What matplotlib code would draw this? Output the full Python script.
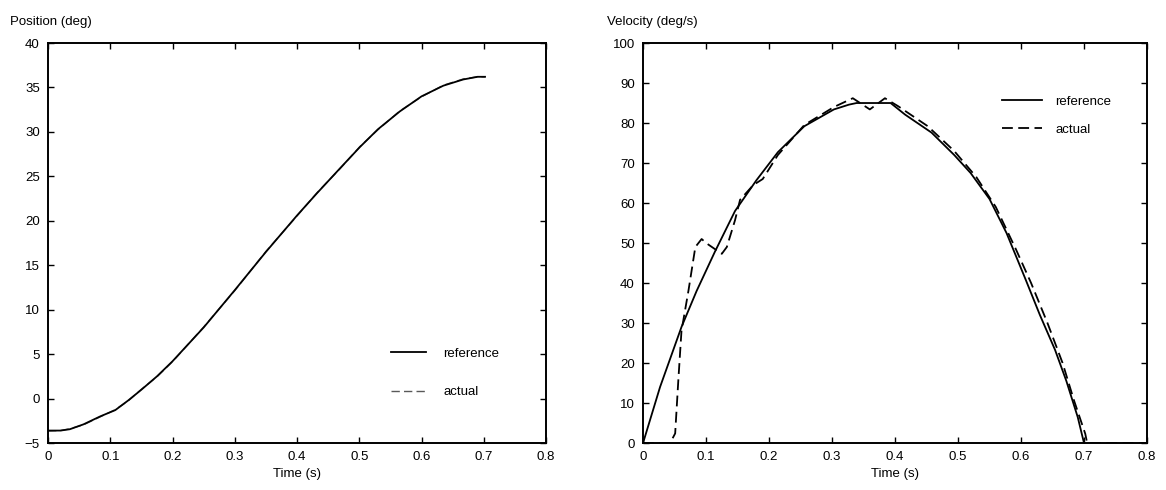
import numpy as np
import matplotlib
matplotlib.use("Agg")
import matplotlib.pyplot as plt

plt.rcParams['font.family'] = ['Liberation Sans', 'DejaVu Sans']
plt.rcParams['font.size'] = 9

##################### Data ######################
# position (deg)
pos_t = [0, 0.02, 0.035, 0.057, 0.084, 0.108, 0.129, 0.15, 0.175, 0.2, 0.25,
         0.3, 0.35, 0.4, 0.432, 0.469, 0.501, 0.53, 0.565, 0.6, 0.635,
         0.667, 0.69, 0.702]
pos_ref = [-3.6, -3.6, -3.45, -2.9, -2.0, -1.3, -0.2, 1.0, 2.5, 4.2, 8.0,
           12.2, 16.5, 20.6, 23.1, 25.9, 28.3, 30.3, 32.3, 34.0, 35.2,
           35.9, 36.2, 36.2]
pos_act = [-3.65, -3.6, -3.4, -2.95, -2.05, -1.25, -0.25, 1.05, 2.45, 4.15,
           8.05, 12.15, 16.55, 20.55, 23.15, 25.85, 28.35, 30.25, 32.35,
           33.95, 35.25, 35.95, 36.2, 36.2]

# velocity (deg/s)
vel_t = [0, 0.027, 0.061, 0.085, 0.114, 0.146, 0.18, 0.214, 0.256, 0.303,
         0.327, 0.339, 0.393, 0.416, 0.458, 0.494, 0.52, 0.55, 0.577,
         0.607, 0.63, 0.654, 0.672, 0.69, 0.7]
vel_ref = [0, 14, 29, 38, 47.8, 58, 65.7, 72.7, 79.2, 83.4, 84.6, 85, 85,
           82.1, 77.6, 72, 67.5, 61, 52.5, 41, 32, 23.3, 15.5, 6.5, 0]
act_t = [0, 0.043, 0.051, 0.056, 0.061, 0.072, 0.083, 0.093, 0.101, 0.125,
         0.133, 0.146, 0.154, 0.175, 0.19, 0.214, 0.256, 0.303, 0.333, 0.36,
         0.384, 0.405, 0.452, 0.494, 0.529, 0.56, 0.592, 0.616, 0.642,
         0.666, 0.684, 0.702, 0.705, 0.8]
act_v = [0, 0, 2.4, 15.7, 28, 38, 49, 51, 49.9, 47.3, 49, 55.7, 60.8, 64.5,
         66, 72, 79.5, 84, 86.2, 83.4, 86.2, 84.2, 79.2, 73, 66.5, 59, 48.4,
         40, 30, 20, 10.7, 2.3, 0, 0]

xticks = [0, 0.1, 0.2, 0.3, 0.4, 0.5, 0.6, 0.7, 0.8]
xticklabels = ['0', '0.1', '0.2', '0.3', '0.4', '0.5', '0.6', '0.7', '0.8']

##################### Plots ###########################
fig = plt.figure(figsize=(11.66, 4.9), dpi=100)
ax1 = fig.add_axes([0.0412, 0.0959, 0.4271, 0.8163])
ax2 = fig.add_axes([0.5515, 0.0959, 0.4322, 0.8163])

dash = (0, (6, 3))

ax1.plot(pos_t, pos_act, color='0.35', lw=1.0, linestyle=dash, label='actual')
ax1.plot(pos_t, pos_ref, color='k', lw=1.3, label='reference')
ax1.axis([0, 0.8, -5, 40])
ax1.set_yticks(range(-5, 41, 5))

ax2.plot(vel_t, vel_ref, color='k', lw=1.3, label='reference')
ax2.plot(act_t, act_v, color='k', lw=1.3, linestyle=dash, label='actual')
ax2.axis([0, 0.8, 0, 100])
ax2.set_yticks(range(0, 101, 10))

for ax in (ax1, ax2):
    ax.set_xticks(xticks)
    ax.set_xticklabels(xticklabels)
    ax.tick_params(direction='in', top=True, right=True, length=4,
                   width=1, labelsize=9.5, pad=6)
    for s in ax.spines.values():
        s.set_linewidth(1.4)
    ax.set_xlabel('Time (s)', fontsize=9.5, labelpad=3)

h, l = ax1.get_legend_handles_labels()
ax1.legend(h[::-1], l[::-1], loc='upper left', bbox_to_anchor=(0.675, 0.255),
           frameon=False, handlelength=2.7, labelspacing=2.0, borderpad=0,
           handletextpad=1.3, fontsize=9.5)
ax2.legend(loc='upper left', bbox_to_anchor=(0.70, 0.885),
           frameon=False, handlelength=3.0, labelspacing=1.2, borderpad=0,
           handletextpad=1.0, fontsize=9.5)

fig.text(10 / 1166, 1 - 22 / 490, 'Position (deg)', fontsize=9.5, va='center')
fig.text(607 / 1166, 1 - 22 / 490, 'Velocity (deg/s)', fontsize=9.5, va='center')

fig.savefig('out.png', dpi=100)
